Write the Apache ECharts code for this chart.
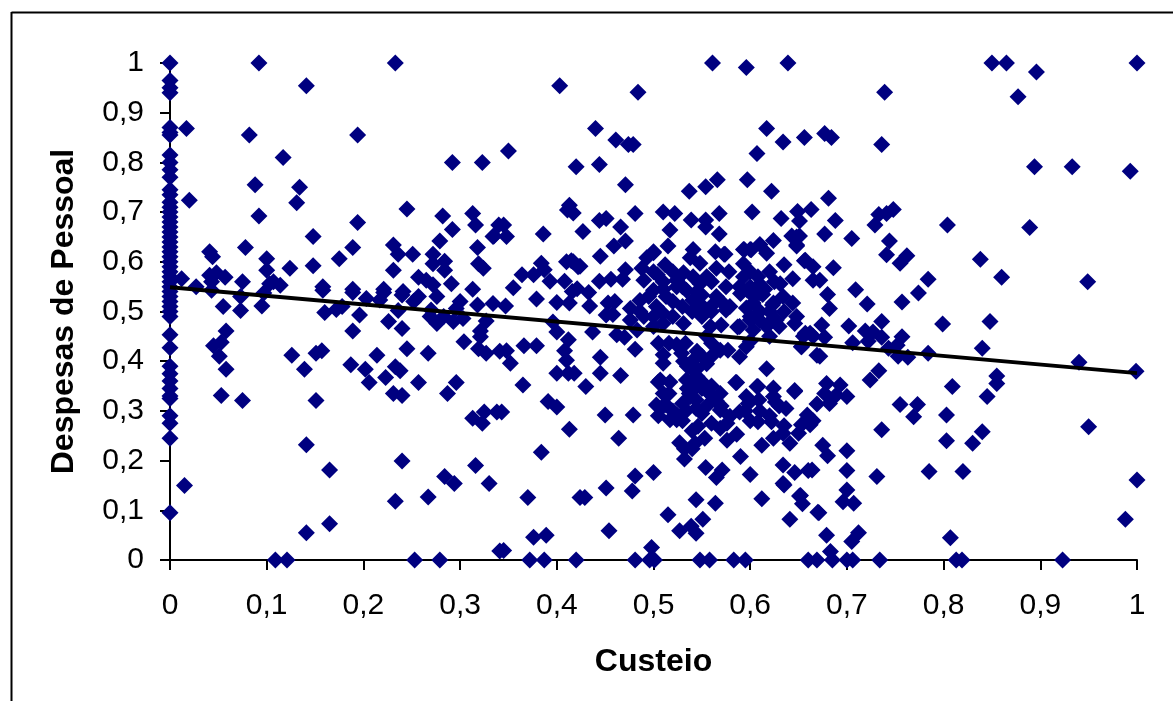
<!DOCTYPE html>
<html><head><meta charset="utf-8">
<style>html,body{margin:0;padding:0;background:#fff}#c{width:1173px;height:701px}</style>
<script src="https://cdn.jsdelivr.net/npm/echarts@6/dist/echarts.min.js"></script>
</head><body><div id="c"></div>
<script>
const yNoEixo=[1,.965,.95,.94,.87,.86,.855,.815,.8,.785,.77,.745,.735,.72,.71,.7,.69,.68,.67,.66,.65,.64,.63,.62,.61,.6,.59,.58,.57,.56,.55,.54,.53,.52,.51,.5,.49,.453,.427,.39,.375,.36,.345,.33,.325,.29,.275,.245,.095];
const xNaBase=[.109,.121,.253,.279,.372,.387,.42,.481,.496,.501,.548,.558,.583,.595,.66,.669,.685,.7,.706,.734,.813,.819,.923];
const pontosEsquerda=[[.092,1],[.233,1],[.141,.954],[.017,.868],[.082,.855],[.194,.855],[.117,.81],[.292,.8],[.323,.8],[.088,.755],[.134,.75],[.02,.724],[.131,.719],[.245,.706],[.282,.692],[.313,.697],[.092,.692],[.194,.679],[.292,.665],[.316,.674],[.34,.674],[.148,.651],[.279,.642],[.334,.651],[.078,.629],[.189,.629],[.231,.634],[.318,.629],[.041,.62],[.044,.61],[.1,.606],[.236,.615],[.251,.615],[.175,.606],[.272,.615],[.284,.601],[.272,.596],[.319,.596],[.324,.587],[.1,.583],[.124,.587],[.148,.592],[.231,.583],[.284,.583],[.048,.578],[.041,.573],[.057,.569],[.043,.56],[.012,.566],[.075,.56],[.257,.569],[.265,.563],[.272,.554],[.291,.556],[.103,.556],[.114,.553],[.107,.56],[.027,.55],[.158,.55],[.189,.545],[.221,.545],[.241,.54],[.313,.545],[.043,.543],[.097,.537],[.158,.543],[.189,.538],[.203,.526],[.221,.538],[.217,.523],[.24,.533],[.257,.53],[.252,.52],[.276,.53],[.3,.52],[.318,.513],[.334,.516],[.296,.506],[.055,.51],[.073,.502],[.073,.53],[.095,.511],[.178,.51],[.172,.504],[.16,.498],[.196,.493],[.236,.502],[.27,.503],[.269,.49],[.276,.476],[.283,.49],[.293,.48],[.303,.486],[.327,.481],[.226,.48],[.24,.466],[.189,.461],[.058,.461],[.321,.461],[.321,.449],[.304,.439],[.053,.438],[.045,.431],[.051,.41],[.058,.384],[.053,.331],[.075,.321],[.245,.425],[.267,.416],[.319,.425],[.327,.416],[.126,.412],[.151,.416],[.157,.421],[.139,.384],[.214,.412],[.187,.393],[.202,.384],[.233,.389],[.238,.381],[.223,.367],[.206,.357],[.257,.357],[.296,.357],[.287,.335],[.231,.335],[.24,.331],[.151,.321],[.325,.298],[.338,.298],[.313,.285],[.323,.275],[.141,.232],[.24,.199],[.165,.181],[.316,.19],[.284,.168],[.294,.154],[.015,.15],[.33,.154],[.267,.127],[.233,.118],[.165,.073],[.141,.055],[.341,.018],[.341,.42],[.335,.652],[.345,.674],[.348,.651]];
const pontosCentro=[[.403,.954],[.484,.941],[.561,1],[.596,.991],[.639,1],[.44,.868],[.617,.868],[.35,.823],[.461,.845],[.474,.836],[.479,.836],[.634,.841],[.656,.85],[.677,.858],[.684,.85],[.607,.818],[.42,.791],[.444,.796],[.471,.755],[.597,.765],[.566,.765],[.554,.751],[.537,.742],[.622,.742],[.681,.728],[.413,.714],[.411,.704],[.417,.698],[.481,.697],[.51,.7],[.522,.697],[.568,.697],[.602,.7],[.539,.684],[.554,.684],[.554,.67],[.632,.687],[.649,.701],[.663,.705],[.651,.682],[.451,.687],[.444,.683],[.386,.656],[.427,.661],[.466,.67],[.517,.664],[.568,.656],[.677,.656],[.643,.652],[.651,.652],[.648,.632],[.471,.642],[.459,.632],[.515,.632],[.445,.611],[.564,.62],[.573,.615],[.541,.625],[.5,.618],[.493,.608],[.593,.625],[.6,.625],[.61,.635],[.624,.643],[.617,.617],[.635,.594],[.656,.602],[.665,.59],[.384,.597],[.415,.602],[.422,.59],[.364,.574],[.376,.574],[.387,.584],[.471,.584],[.456,.565],[.408,.561],[.444,.561],[.393,.561],[.355,.548],[.421,.546],[.379,.525],[.416,.54],[.433,.538],[.413,.517],[.4,.518],[.434,.511],[.453,.517],[.451,.493],[.417,.6],[.424,.591],[.41,.6],[.347,.511],[.46,.52],[.458,.494],[.4,.459],[.396,.479],[.412,.443],[.437,.459],[.462,.453],[.47,.448],[.481,.424],[.348,.421],[.366,.431],[.379,.431],[.352,.396],[.408,.421],[.41,.402],[.4,.376],[.412,.376],[.418,.376],[.445,.408],[.445,.376],[.466,.371],[.365,.352],[.43,.349],[.391,.319],[.4,.308],[.343,.298],[.45,.292],[.479,.292],[.413,.263],[.464,.245],[.384,.217],[.37,.126],[.424,.126],[.429,.126],[.451,.145],[.481,.169],[.478,.139],[.5,.176],[.454,.059],[.376,.046],[.389,.05],[.345,.019],[.498,.025],[.515,.091],[.527,.059],[.539,.068],[.544,.054],[.551,.082],[.544,.121],[.564,.114],[.612,.123],[.641,.082],[.671,.095],[.679,.05],[.651,.129],[.654,.113],[.683,.017],[.634,.154],[.646,.176],[.664,.181],[.634,.191],[.6,.172],[.571,.181],[.565,.166],[.554,.186],[.59,.208],[.532,.203],[.527,.236],[.532,.224],[.543,.235],[.54,.224],[.553,.245],[.546,.269],[.569,.265],[.576,.275],[.576,.241],[.586,.253],[.612,.231],[.624,.245],[.634,.255],[.641,.235],[.653,.272],[.662,.272],[.675,.231],[.608,.278],[.622,.278]];
const pontosDenso=[[.5,.62],[.488,.587],[.512,.594],[.538,.608],[.548,.597],[.531,.578],[.574,.615],[.594,.624],[.601,.624],[.648,.65],[.648,.634],[.657,.603],[.468,.565],[.504,.574],[.541,.57],[.524,.563],[.565,.587],[.578,.58],[.589,.55],[.593,.596],[.593,.57],[.608,.57],[.62,.58],[.631,.556],[.644,.566],[.665,.563],[.486,.522],[.476,.506],[.5,.543],[.513,.53],[.524,.55],[.503,.51],[.49,.563],[.534,.543],[.548,.556],[.55,.533],[.541,.523],[.565,.53],[.579,.51],[.572,.516],[.596,.507],[.603,.517],[.61,.537],[.624,.517],[.634,.53],[.644,.517],[.648,.49],[.476,.483],[.486,.5],[.51,.496],[.52,.49],[.54,.5],[.531,.476],[.559,.47],[.589,.47],[.61,.482],[.617,.47],[.603,.463],[.624,.486],[.657,.456],[.665,.45],[.483,.463],[.51,.476],[.5,.47],[.505,.436],[.516,.436],[.524,.433],[.533,.436],[.529,.416],[.51,.413],[.531,.4],[.51,.396],[.555,.45],[.577,.422],[.596,.429],[.589,.409],[.569,.422],[.617,.385],[.653,.429],[.669,.412],[.56,.436],[.541,.382],[.545,.369],[.534,.362],[.552,.355],[.505,.358],[.517,.358],[.586,.357],[.608,.349],[.624,.346],[.646,.341],[.516,.335],[.537,.335],[.555,.341],[.569,.335],[.596,.329],[.624,.329],[.507,.362],[.51,.335],[.513,.312],[.503,.312],[.538,.329],[.544,.349],[.534,.301],[.544,.305],[.524,.292],[.544,.322],[.558,.335],[.569,.302],[.55,.295],[.517,.282],[.524,.282],[.51,.31],[.505,.29],[.52,.3],[.53,.28],[.54,.26],[.56,.275],[.595,.3],[.61,.3],[.62,.29],[.63,.31],[.6,.28],[.635,.27],[.65,.255],[.665,.28],[.551,.51],[.561,.513],[.541,.523],[.57,.473],[.587,.469],[.6,.483],[.59,.536],[.604,.53],[.575,.503],[.597,.543],[.575,.55],[.613,.534],[.623,.513],[.627,.483],[.585,.357],[.607,.349],[.598,.315],[.589,.298],[.609,.322],[.579,.289],[.626,.318],[.637,.305],[.545,.42],[.55,.41],[.54,.4],[.535,.39],[.555,.395],[.56,.41],[.545,.385],[.535,.345],[.55,.345],[.56,.35],[.565,.32],[.57,.31],[.53,.315],[.555,.31],[.5,.58],[.51,.56],[.52,.58],[.53,.55],[.51,.545],[.545,.54],[.555,.57],[.56,.56],[.52,.52],[.53,.51],[.495,.53],[.55,.49],[.56,.5],[.49,.49],[.5,.49],[.6,.58],[.61,.555],[.615,.545],[.625,.56],[.6,.55],[.6,.49],[.61,.5],[.62,.5],[.635,.5],[.63,.47],[.6,.44],[.62,.45]];
const pontosDireita=[[.85,1],[.865,1],[.896,.982],[1,1],[.877,.932],[.739,.941],[.736,.836],[.894,.791],[.933,.791],[.993,.782],[.748,.705],[.741,.697],[.733,.695],[.729,.674],[.688,.683],[.804,.674],[.889,.669],[.705,.647],[.744,.642],[.741,.614],[.762,.612],[.755,.597],[.686,.588],[.838,.605],[.86,.569],[.784,.565],[.949,.56],[.709,.544],[.774,.537],[.721,.515],[.68,.534],[.682,.506],[.672,.563],[.757,.519],[.799,.475],[.848,.48],[.702,.471],[.719,.461],[.736,.48],[.727,.459],[.736,.448],[.706,.437],[.722,.44],[.757,.449],[.752,.432],[.743,.426],[.784,.416],[.753,.41],[.763,.408],[.84,.426],[.646,.476],[.655,.45],[.674,.473],[.662,.456],[.677,.448],[.653,.429],[.672,.41],[.733,.381],[.724,.362],[.809,.349],[.845,.329],[.755,.313],[.773,.313],[.769,.288],[.803,.292],[.646,.339],[.679,.355],[.693,.352],[.7,.329],[.669,.314],[.682,.315],[.689,.332],[.677,.335],[.659,.292],[.635,.151],[.652,.13],[.67,.096],[.7,.141],[.696,.117],[.707,.114],[.712,.055],[.705,.037],[.807,.045],[.988,.082],[1,.161],[.731,.168],[.7,.22],[.68,.21],[.66,.18],[.7,.18],[.736,.262],[.803,.24],[.83,.235],[.82,.178],[.785,.178],[.84,.258],[.855,.355],[.855,.37],[.94,.398],[.95,.268],[.999,.38]];
const retaTendencia=[[0,.549],[1,.376]];
const tituloEixoX='Custeio';
const tituloEixoY='Despesas de Pessoal';

const fmt=v=>String(v).replace('.',',');
const font='"Liberation Sans"';
const eixo=(nome,gap,mg)=>({type:'value',min:0,max:1,interval:.1,name:nome,nameLocation:'middle',nameGap:gap,
 nameTextStyle:{fontFamily:font,fontWeight:'bold',fontSize:32,color:'#000'},
 axisLine:{show:true,onZero:false,lineStyle:{color:'#000',width:2}},
 axisTick:{show:true,length:10,lineStyle:{color:'#000',width:2}},
 axisLabel:{formatter:fmt,margin:mg,fontFamily:font,fontSize:30,color:'#000'},
 splitLine:{show:false}});
const pontos=[...yNoEixo.map(y=>[0,y]),...xNaBase.map(x=>[x,0]),...pontosEsquerda,...pontosCentro,...pontosDenso,...pontosDireita];
const chart=echarts.init(document.getElementById('c'),null,{renderer:'canvas'});
chart.setOption({animation:false,backgroundColor:'#fff',
 grid:{left:170,top:63,width:967,height:497,containLabel:false},
 xAxis:eixo(tituloEixoX,86,31),
 yAxis:eixo(tituloEixoY,90,26),
 series:[
 {type:'scatter',data:pontos,symbol:'diamond',symbolSize:17,clip:false,itemStyle:{color:'#000080',opacity:1},z:3},
 {type:'line',data:retaTendencia,symbol:'none',clip:false,lineStyle:{color:'#000',width:4},z:4}],
 graphic:[
 {type:'line',shape:{x1:11.5,y1:12.5,x2:1173,y2:12.5},style:{stroke:'#000',lineWidth:2},z:10},
 {type:'line',shape:{x1:11.5,y1:12,x2:11.5,y2:701},style:{stroke:'#000',lineWidth:2},z:10}]
});
</script></body></html>
